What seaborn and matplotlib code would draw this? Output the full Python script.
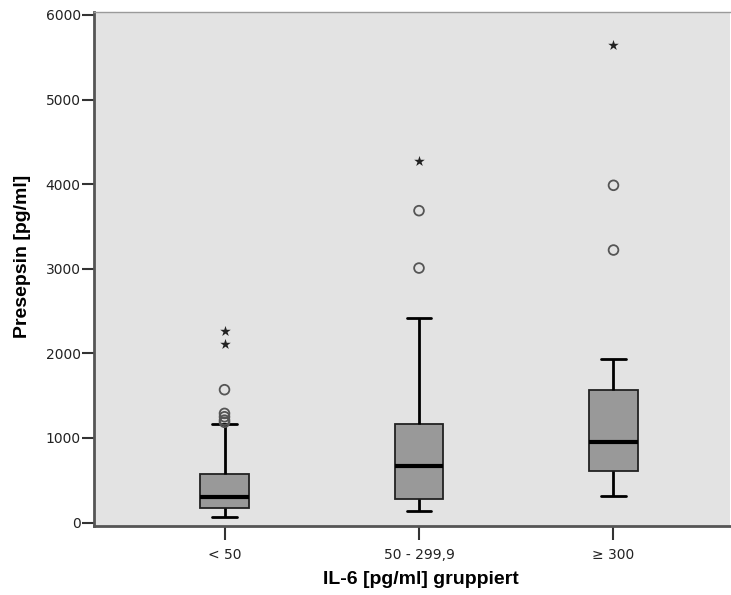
import numpy as np
import pandas as pd
import matplotlib
matplotlib.use("Agg")
import matplotlib.pyplot as plt
import seaborn as sns

# IL-6 groups and the five-number summary of presepsin per group
groups = ["< 50", "50 - 299,9", "\u2265 300"]
whisker_low = [69, 132, 313]
q1 = [175, 278, 612]
median = [301, 664, 951]
q3 = [577, 1164, 1566]
whisker_high = [1164, 2416, 1935]

# outliers (circles) and extreme values (stars)
outlier_group = ["< 50", "< 50", "< 50", "< 50", "< 50",
                 "50 - 299,9", "50 - 299,9", "\u2265 300", "\u2265 300"]
outlier_value = [1185, 1210, 1250, 1290, 1570, 3008, 3686, 3221, 3986]
extreme_group = ["< 50", "< 50", "50 - 299,9", "\u2265 300"]
extreme_value = [2106, 2264, 4277, 5644]

y_ticks = [0, 1000, 2000, 3000, 4000, 5000, 6000]

# box-defining samples: quartiles and whisker ends reproduce the summary above
rows = []
for g, lo, a, m, b, hi in zip(groups, whisker_low, q1, median, q3, whisker_high):
    for v in (lo, a, a, m, b, b, hi):
        rows.append({"group": g, "value": v})
box_df = pd.DataFrame(rows)
out_df = pd.DataFrame({"group": outlier_group, "value": outlier_value})
ext_df = pd.DataFrame({"group": extreme_group, "value": extreme_value})

sns.set_theme(style="white")
plt.rcParams["font.family"] = ["DejaVu Sans"]

fig = plt.figure(figsize=(7.31, 5.95), dpi=100)
ax = fig.add_axes([94 / 731, 1 - 526 / 595, (730 - 94) / 731, (526 - 11.7) / 595])
ax.set_facecolor("#e3e3e3")

sns.boxplot(data=box_df, x="group", y="value", order=groups, ax=ax,
            width=0.25, whis=1.5, showfliers=False,
            boxprops=dict(facecolor="#999999", edgecolor="#222222", linewidth=1.3),
            medianprops=dict(color="black", linewidth=3.0),
            whiskerprops=dict(color="black", linewidth=2.0),
            capprops=dict(color="black", linewidth=2.0),
            capwidths=0.125)

sns.stripplot(data=out_df, x="group", y="value", order=groups, ax=ax,
              jitter=False, marker="o", size=7, color="none",
              edgecolor="#555555", linewidth=1.3)
sns.stripplot(data=ext_df, x="group", y="value", order=groups, ax=ax,
              jitter=False, marker="*", size=8, color="#222222",
              linewidth=0)

ax.set_xlim(-0.671, 2.599)
ax.set_ylim(-41, 6038)
ax.set_yticks(y_ticks)
ax.set_yticklabels([str(t) for t in y_ticks])

for side in ("left", "bottom"):
    ax.spines[side].set_color("#555555")
    ax.spines[side].set_linewidth(2.0)
ax.spines["top"].set_color("#9a9a9a")
ax.spines["top"].set_linewidth(1.0)
ax.spines["right"].set_visible(False)

ax.tick_params(axis="y", left=True, direction="out", length=8.5, width=1.5,
               color="#333333", labelsize=10, labelcolor="#222222", pad=1)
ax.tick_params(axis="x", bottom=True, direction="out", length=10, width=1.5,
               color="#333333", labelsize=10, labelcolor="#222222", pad=6)

ax.set_xlabel("IL-6 [pg/ml] gruppiert", fontsize=14, fontweight="bold",
              family="Liberation Sans", color="black")
ax.set_ylabel("Presepsin [pg/ml]", fontsize=14, fontweight="bold",
              family="Liberation Sans", color="black")
ax.xaxis.set_label_coords(0.514, -0.0875)
ax.yaxis.set_label_coords(-0.099, 0.525)

fig.savefig("out.png", dpi=100)
